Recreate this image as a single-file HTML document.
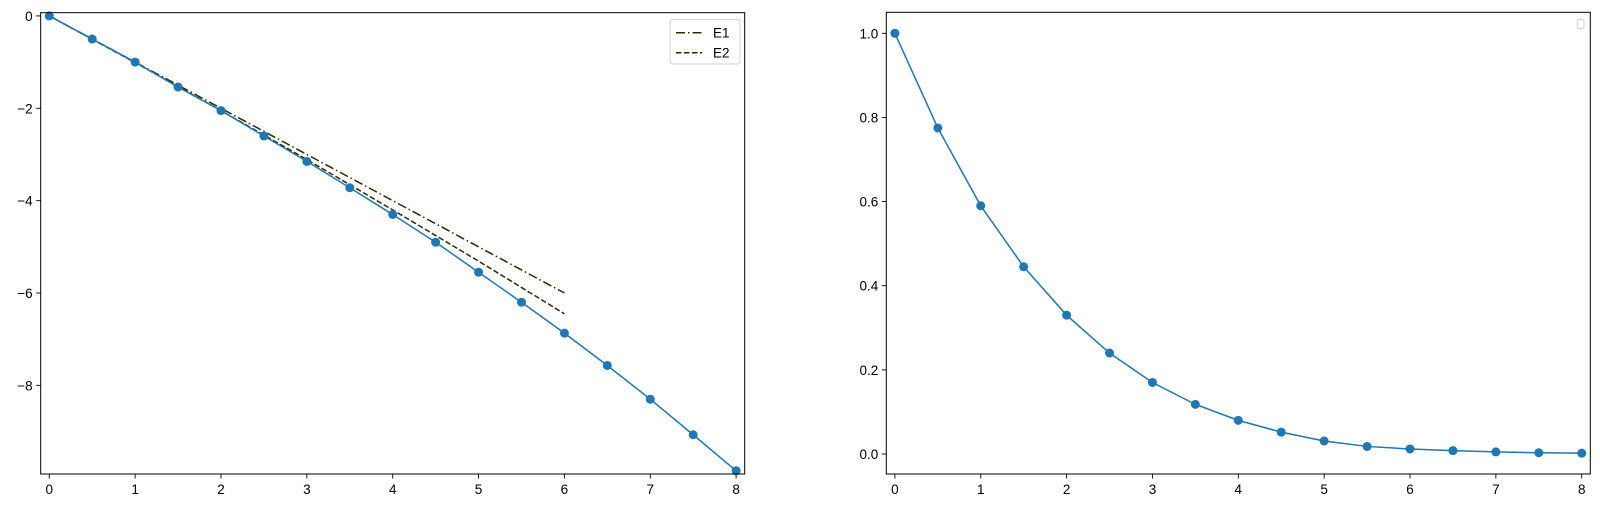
<!DOCTYPE html>
<html><head><meta charset="utf-8"><style>
html,body{margin:0;padding:0;background:#fff;}
svg{display:block;font-family:"Liberation Sans","DejaVu Sans",sans-serif;}
</style></head><body>
<svg id="fig" width="1600" height="508" xmlns="http://www.w3.org/2000/svg">
<g id="left"></g>
<g id="right"></g>
</svg>
<script>
const xs = [0,0.5,1,1.5,2,2.5,3,3.5,4,4.5,5,5.5,6,6.5,7,7.5,8];
const leftY = [0,-0.5,-1,-1.54,-2.05,-2.6,-3.15,-3.72,-4.3,-4.9,-5.55,-6.2,-6.87,-7.57,-8.3,-9.07,-9.85];
const rightY = [1.0,0.775,0.59,0.445,0.33,0.24,0.17,0.118,0.08,0.052,0.031,0.018,0.012,0.008,0.005,0.003,0.002];
const eX = [0,1,2,3,4,5,6];
const e1Y = [0,-1,-2,-3,-4,-5,-6];
const e2Y = [0,-1.01,-2.05,-3.11,-4.2,-5.31,-6.45];
const xTicks = [0,1,2,3,4,5,6,7,8];
const leftYTicks = [0,-2,-4,-6,-8];
const leftYLabels = ["0","\u22122","\u22124","\u22126","\u22128"];
const rightYTicks = [0,0.2,0.4,0.6,0.8,1.0];
const rightYLabels = ["0.0","0.2","0.4","0.6","0.8","1.0"];

const NS="http://www.w3.org/2000/svg";
function mk(parent,tag,attrs){const e=document.createElementNS(NS,tag);for(const k in attrs)e.setAttribute(k,attrs[k]);parent.appendChild(e);return e;}
function scale(d0,d1,r0,r1){return v=>r0+(v-d0)*(r1-r0)/(d1-d0);}
const BLUE="#1f77b4", OLIVE="#2b2b00";

function axes(g,L,T,W,H,xs_,ys_,yTicks,yLabels){
  // ticks
  xTicks.forEach((t,i)=>{
    const x=xs_(t);
    const tk=mk(g,'line',{x1:x,x2:x,y1:T+H,y2:T+H+4.5,stroke:'#000','stroke-width':0.9});
    
    
    const tx=mk(g,'text',{x:x,y:T+H+20,'text-anchor':'middle','font-size':'13.5px',fill:'#000'});
    tx.textContent=String(t);
    
    
  });
  yTicks.forEach((t,i)=>{
    const y=ys_(t);
    const tk=mk(g,'line',{x1:L-4.5,x2:L,y1:y,y2:y,stroke:'#000','stroke-width':0.9});
    
    
    const tx=mk(g,'text',{x:L-8,y:y+5,'text-anchor':'end','font-size':'13.5px',fill:'#000'});
    tx.textContent=yLabels[i];
    
    
  });
}
function frame(g,L,T,W,H){
  const r=mk(g,'rect',{x:L,y:T,width:W,height:H,fill:'none',stroke:'#000','stroke-width':1});
  
  
}
function series(g,X,Y,xs_,ys_,color,dash,markers,name){
  const pts=X.map((x,i)=>xs_(x).toFixed(2)+','+ys_(Y[i]).toFixed(2)).join(' ');
  const pl=mk(g,'polyline',{points:pts,fill:'none',stroke:color,'stroke-width':1.5});
  if(dash)pl.setAttribute('stroke-dasharray',dash);
  
  
  if(markers){X.forEach((x,i)=>{
    const c=mk(g,'circle',{cx:xs_(x),cy:ys_(Y[i]),r:4.5,fill:color});
    
    
  });}
}

// left chart
(function(){
  const g=document.getElementById('left');
  const L=40.7,T=12.7,W=704,H=461.3;
  const xs_=scale(-0.1,8.1,L,L+W), ys_=scale(0.07,-9.92,T,T+H);
  axes(g,L,T,W,H,xs_,ys_,leftYTicks,leftYLabels);
  const cg=mk(g,'g',{});
  
  
  mk(cg,'clipPath',{id:'cl'});
  series(g,eX,e1Y,xs_,ys_,OLIVE,'9,3,1.5,3',false,'e1-line');
  series(g,eX,e2Y,xs_,ys_,OLIVE,'5.5,2.5',false,'e2-line');
  series(g,xs,leftY,xs_,ys_,BLUE,null,true,'series-line');
  frame(g,L,T,W,H);
  const lg=mk(g,'g',{});
  
  
  const box=mk(lg,'rect',{x:670,y:19.5,width:70,height:44.5,rx:3,fill:'#fff',stroke:'#d0d0d0','stroke-width':1});
  
  
  const l1=mk(lg,'line',{x1:676,x2:702,y1:32.7,y2:32.7,stroke:OLIVE,'stroke-width':1.5,'stroke-dasharray':'9,3,1.5,3'});
  
  
  const t1=mk(lg,'text',{x:713,y:37.5,'font-size':'13.5px',fill:'#000'});t1.textContent='E1';
  
  
  const l2=mk(lg,'line',{x1:676,x2:702,y1:52.7,y2:52.7,stroke:OLIVE,'stroke-width':1.5,'stroke-dasharray':'5.5,2.5'});
  
  
  const t2=mk(lg,'text',{x:713,y:57.5,'font-size':'13.5px',fill:'#000'});t2.textContent='E2';
  
  
})();

// right chart
(function(){
  const g=document.getElementById('right');
  const L=886.3,T=12.3,W=704,H=461.7;
  const xs_=scale(-0.1,8.1,L,L+W), ys_=scale(1.0499,-0.0475,T,T+H);
  axes(g,L,T,W,H,xs_,ys_,rightYTicks,rightYLabels);
  series(g,xs,rightY,xs_,ys_,BLUE,null,true,'series-line');
  frame(g,L,T,W,H);
  const box=mk(g,'rect',{x:1577.5,y:19.5,width:6.5,height:9,rx:2,fill:'#fff',stroke:'#d0d0d0','stroke-width':1});
  
  
})();
</script>
</body></html>
